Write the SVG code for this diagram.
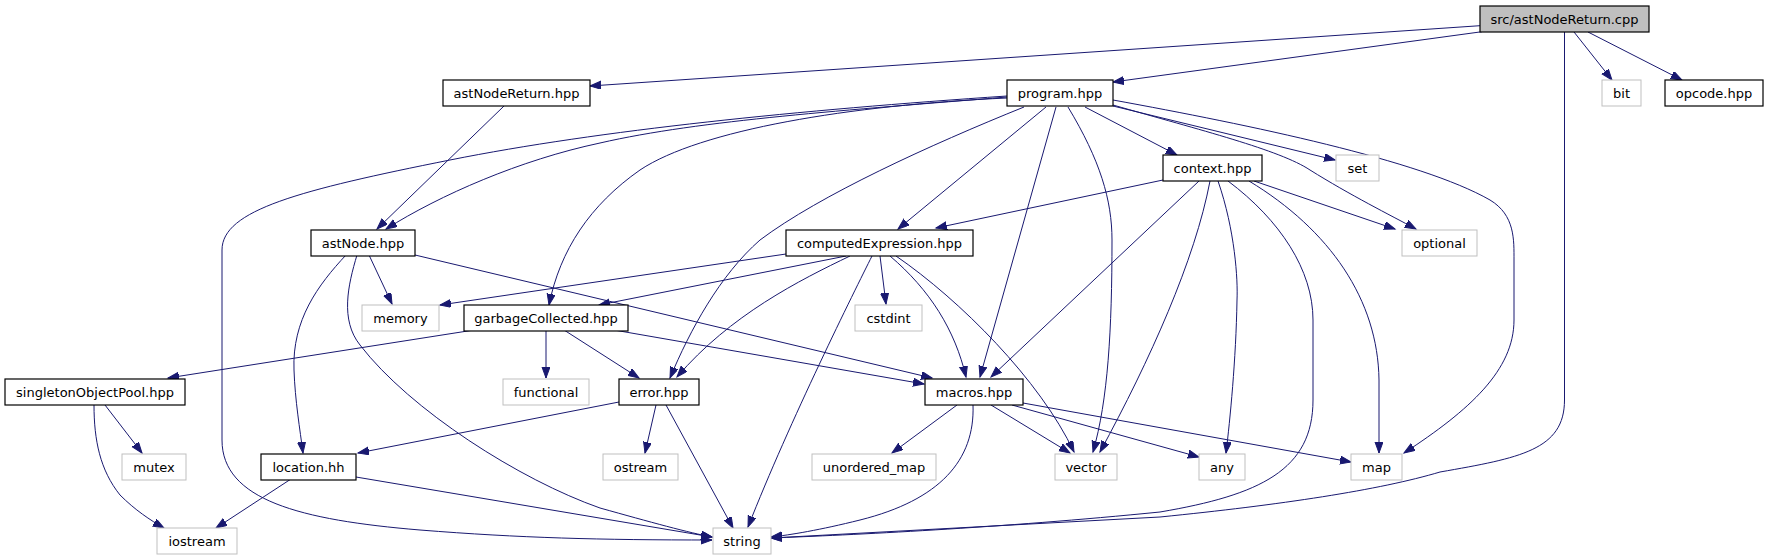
<svg xmlns="http://www.w3.org/2000/svg" width="1768" height="560" viewBox="0 0 1768 560">
<style>
.n rect{fill:#fff;stroke:#000;stroke-width:1.2}
.x rect{fill:#fff;stroke:#bfbfbf;stroke-width:1}
.r rect{fill:#bfbfbf;stroke:#000;stroke-width:1.2}
text{font-family:"DejaVu Sans","Liberation Sans",sans-serif;font-size:13px;fill:#000;text-anchor:middle}
#edges path{fill:none;stroke:#191970;stroke-width:1}
</style>
<defs>
<marker id="a" markerUnits="userSpaceOnUse" markerWidth="13" markerHeight="10" refX="11" refY="4" orient="auto">
<path d="M0,0 L11,4 L0,8 z" fill="#191970" stroke="#191970" stroke-width="1"/>
</marker>
</defs>
<rect width="1768" height="560" fill="#fff"/>
<g id="edges">
<path marker-end="url(#a)" d="M1480,25.7 L590,86"/>
<path marker-end="url(#a)" d="M1482,31.7 L1113,82"/>
<path marker-end="url(#a)" d="M1574,32 L1612,80"/>
<path marker-end="url(#a)" d="M1588,32 L1682,80"/>
<path marker-end="url(#a)" d="M1564.5,32 L1564.5,400 C1564.5,450 1520,458 1440,472 C1380,490 1280,505 1160,517 L771,538"/>
<path marker-end="url(#a)" d="M504,106 L377,229"/>
<path marker-end="url(#a)" d="M1007,97 C850,110 700,120 600,143 C520,160 440,195 386,229"/>
<path marker-end="url(#a)" d="M1007,96 C800,110 600,130 450,160 C300,190 222,210 222,250 L222,440 C222,500 300,520 420,530 C520,538 600,540 712,540"/>
<path marker-end="url(#a)" d="M1007,98 C850,105 700,130 640,170 C590,205 560,250 549,305"/>
<path marker-end="url(#a)" d="M1024,107 C930,145 820,195 760,240 C720,275 690,330 670,378"/>
<path marker-end="url(#a)" d="M1046,107 L898,229"/>
<path marker-end="url(#a)" d="M1056,107 L980,377"/>
<path marker-end="url(#a)" d="M1068,107 C1100,160 1112,200 1112,240 C1112,330 1108,400 1093,452"/>
<path marker-end="url(#a)" d="M1085,107 L1177,155"/>
<path marker-end="url(#a)" d="M1113,106 L1335,160"/>
<path marker-end="url(#a)" d="M1113,105 C1200,130 1280,150 1310,170 C1350,195 1390,215 1416,229"/>
<path marker-end="url(#a)" d="M1113,100 C1250,125 1420,160 1490,200 C1515,215 1514,240 1514,260 L1514,320 C1514,370 1470,410 1404,453"/>
<path marker-end="url(#a)" d="M1163,180 L936,228"/>
<path marker-end="url(#a)" d="M1199,181 L991,377"/>
<path marker-end="url(#a)" d="M1210,181 C1195,260 1150,360 1100,452"/>
<path marker-end="url(#a)" d="M1218,181 C1235,230 1238,280 1237,300 C1236,360 1230,420 1226,453"/>
<path marker-end="url(#a)" d="M1228,181 C1280,220 1313,270 1313,320 L1313,400 C1313,470 1260,495 1160,512 C1000,528 850,535 771,538"/>
<path marker-end="url(#a)" d="M1249,181 C1330,230 1378,300 1379,380 L1379,453"/>
<path marker-end="url(#a)" d="M1254,181 L1395,229"/>
<path marker-end="url(#a)" d="M346,255 C318,285 292,320 294,370 C295,400 300,430 303,453"/>
<path marker-end="url(#a)" d="M357,255 C348,285 340,320 360,345 C410,410 520,480 600,508 C650,522 690,533 712,537"/>
<path marker-end="url(#a)" d="M369,255 L392,304"/>
<path marker-end="url(#a)" d="M415,255 L932,378"/>
<path marker-end="url(#a)" d="M786,254 L440,305"/>
<path marker-end="url(#a)" d="M846,256 L599,305"/>
<path marker-end="url(#a)" d="M850,256 C800,280 730,315 677,377"/>
<path marker-end="url(#a)" d="M872,256 C855,290 790,420 748,527"/>
<path marker-end="url(#a)" d="M880,256 L886,304"/>
<path marker-end="url(#a)" d="M890,256 C930,290 955,330 966,377"/>
<path marker-end="url(#a)" d="M896,256 C960,300 1040,380 1074,452"/>
<path marker-end="url(#a)" d="M474,330 L168,378"/>
<path marker-end="url(#a)" d="M546,330 L546,378"/>
<path marker-end="url(#a)" d="M564,330 L639,378"/>
<path marker-end="url(#a)" d="M614,330 L924,384"/>
<path marker-end="url(#a)" d="M105,405 L142,453"/>
<path marker-end="url(#a)" d="M94,405 C94,440 100,470 120,495 C135,510 150,520 164,528"/>
<path marker-end="url(#a)" d="M619,402 L358,453"/>
<path marker-end="url(#a)" d="M656,405 L645,453"/>
<path marker-end="url(#a)" d="M666,405 L733,528"/>
<path marker-end="url(#a)" d="M291,479 L216,528"/>
<path marker-end="url(#a)" d="M356,477 L712,537"/>
<path marker-end="url(#a)" d="M957,405 L892,453"/>
<path marker-end="url(#a)" d="M973,405 C975,460 940,500 860,520 C820,530 790,535 771,537"/>
<path marker-end="url(#a)" d="M991,405 L1070,453"/>
<path marker-end="url(#a)" d="M1012,405 L1199,457"/>
<path marker-end="url(#a)" d="M1023,403 L1351,462"/>
</g>
<g id="n_cpp" class="r"><rect x="1480" y="6" width="169" height="26"/><text x="1564.5" y="23.5">src/astNodeReturn.cpp</text></g>
<g id="n_astNodeReturn" class="n"><rect x="443" y="80" width="147" height="26"/><text x="516.5" y="97.5">astNodeReturn.hpp</text></g>
<g id="n_program" class="n"><rect x="1007" y="80" width="106" height="26"/><text x="1060" y="97.5">program.hpp</text></g>
<g id="n_bit" class="x"><rect x="1602" y="80" width="39" height="26"/><text x="1621.5" y="97.5">bit</text></g>
<g id="n_opcode" class="n"><rect x="1665" y="80" width="98" height="26"/><text x="1714" y="97.5">opcode.hpp</text></g>
<g id="n_context" class="n"><rect x="1163" y="155" width="99" height="26"/><text x="1212.5" y="172.5">context.hpp</text></g>
<g id="n_set" class="x"><rect x="1336" y="155" width="43" height="26"/><text x="1357.5" y="172.5">set</text></g>
<g id="n_astNode" class="n"><rect x="311" y="230" width="104" height="26"/><text x="363" y="247.5">astNode.hpp</text></g>
<g id="n_computed" class="n"><rect x="786" y="230" width="187" height="26"/><text x="879.5" y="247.5">computedExpression.hpp</text></g>
<g id="n_optional" class="x"><rect x="1402" y="230" width="75" height="26"/><text x="1439.5" y="247.5">optional</text></g>
<g id="n_memory" class="x"><rect x="362" y="305" width="77" height="26"/><text x="400.5" y="322.5">memory</text></g>
<g id="n_gc" class="n"><rect x="464" y="305" width="164" height="26"/><text x="546" y="322.5">garbageCollected.hpp</text></g>
<g id="n_cstdint" class="x"><rect x="855" y="305" width="67" height="26"/><text x="888.5" y="322.5">cstdint</text></g>
<g id="n_singleton" class="n"><rect x="5" y="379" width="180" height="26"/><text x="95" y="396.5">singletonObjectPool.hpp</text></g>
<g id="n_functional" class="x"><rect x="503" y="379" width="86" height="26"/><text x="546" y="396.5">functional</text></g>
<g id="n_error" class="n"><rect x="619" y="379" width="80" height="26"/><text x="659" y="396.5">error.hpp</text></g>
<g id="n_macros" class="n"><rect x="925" y="379" width="98" height="26"/><text x="974" y="396.5">macros.hpp</text></g>
<g id="n_mutex" class="x"><rect x="122" y="454" width="64" height="26"/><text x="154" y="471.5">mutex</text></g>
<g id="n_location" class="n"><rect x="261" y="454" width="95" height="26"/><text x="308.5" y="471.5">location.hh</text></g>
<g id="n_ostream" class="x"><rect x="603" y="454" width="75" height="26"/><text x="640.5" y="471.5">ostream</text></g>
<g id="n_unordered" class="x"><rect x="812" y="454" width="124" height="26"/><text x="874" y="471.5">unordered_map</text></g>
<g id="n_vector" class="x"><rect x="1055" y="454" width="62" height="26"/><text x="1086" y="471.5">vector</text></g>
<g id="n_any" class="x"><rect x="1199" y="454" width="46" height="26"/><text x="1222" y="471.5">any</text></g>
<g id="n_map" class="x"><rect x="1351" y="454" width="51" height="26"/><text x="1376.5" y="471.5">map</text></g>
<g id="n_iostream" class="x"><rect x="157" y="528" width="80" height="26"/><text x="197" y="545.5">iostream</text></g>
<g id="n_string" class="x"><rect x="713" y="528" width="58" height="26"/><text x="742" y="545.5">string</text></g>
</svg>
